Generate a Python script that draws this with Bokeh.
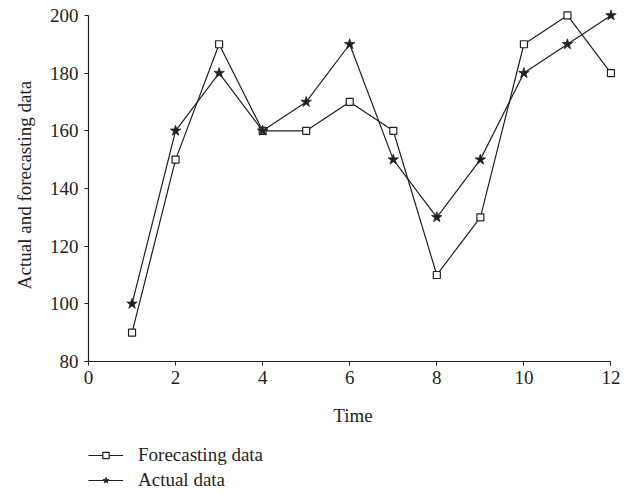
from bokeh.plotting import figure
from bokeh.layouts import column
from bokeh.models import Legend, LegendItem, Range1d, FixedTicker
from bokeh.embed import file_html
from bokeh.resources import INLINE

time = [1, 2, 3, 4, 5, 6, 7, 8, 9, 10, 11, 12]
forecasting = [90, 150, 190, 160, 160, 170, 160, 110, 130, 190, 200, 180]
actual = [100, 160, 180, 160, 170, 190, 150, 130, 150, 180, 190, 200]
x_ticks = [0, 2, 4, 6, 8, 10, 12]
y_ticks = [80, 100, 120, 140, 160, 180, 200]
series_names = ["Forecasting data", "Actual data"]

FONT = "Liberation Serif"
INK = "#231f20"

p = figure(width=622, height=428, output_backend="svg", toolbar_location=None,
           x_range=Range1d(0, 12.15), y_range=Range1d(80, 202.4),
           min_border_left=88, min_border_right=5, min_border_top=8, min_border_bottom=66)
p.outline_line_color = None
p.grid.grid_line_color = None

for ax in (p.xaxis[0], p.yaxis[0]):
    ax.axis_line_color = INK
    ax.axis_line_width = 1.2
    ax.major_tick_line_color = INK
    ax.major_tick_in = 0
    ax.major_tick_out = 4
    ax.minor_tick_line_color = None
    ax.major_label_text_font = FONT
    ax.major_label_text_font_size = "19px"
    ax.major_label_text_color = INK
    ax.axis_label_text_font = FONT
    ax.axis_label_text_font_size = "19px"
    ax.axis_label_text_font_style = "normal"
    ax.axis_label_text_color = INK

p.xaxis.ticker = FixedTicker(ticks=x_ticks)
p.yaxis.ticker = FixedTicker(ticks=y_ticks)
p.xaxis.bounds = (x_ticks[0], x_ticks[-1])
p.yaxis.bounds = (y_ticks[0], y_ticks[-1])
p.xaxis.axis_label = "Time"
p.yaxis.axis_label = "Actual and forecasting data"
p.xaxis.major_label_standoff = 5
p.xaxis.axis_label_standoff = 18
p.yaxis.major_label_standoff = 6
p.yaxis.axis_label_standoff = 12

def draw(fig, xs, ys_f, ys_a):
    l1 = fig.line(xs, ys_f, line_color=INK, line_width=1.2)
    m1 = fig.scatter(xs, ys_f, marker="square", size=7, fill_color="white",
                     line_color=INK, line_width=1.2)
    l2 = fig.line(xs, ys_a, line_color=INK, line_width=1.2)
    m2 = fig.scatter(xs, ys_a, marker="star", size=11, fill_color=INK,
                     line_color=INK, line_width=0.8)
    return (l1, m1), (l2, m2)

draw(p, time, forecasting, actual)

# legend panel below the chart (its data lies outside its own view)
q = figure(width=622, height=64, output_backend="svg", toolbar_location=None,
           x_range=Range1d(-1, 0), y_range=Range1d(-1, 0), min_border=0)
q.outline_line_color = None
q.axis.visible = False
q.grid.grid_line_color = None
r_f, r_a = draw(q, time, forecasting, actual)

legend = Legend(items=[LegendItem(label=series_names[0], renderers=list(r_f)),
                       LegendItem(label=series_names[1], renderers=list(r_a))],
                location=(0, 0), padding=0, margin=0, spacing=1,
                glyph_width=35, glyph_height=16, label_height=24, label_standoff=15,
                border_line_color=None, background_fill_alpha=0,
                label_text_font=FONT, label_text_font_size="19px",
                label_text_color=INK)
q.add_layout(legend, "center")

layout = column(p, q, spacing=0)
open("out.html", "w").write(file_html(layout, INLINE))
